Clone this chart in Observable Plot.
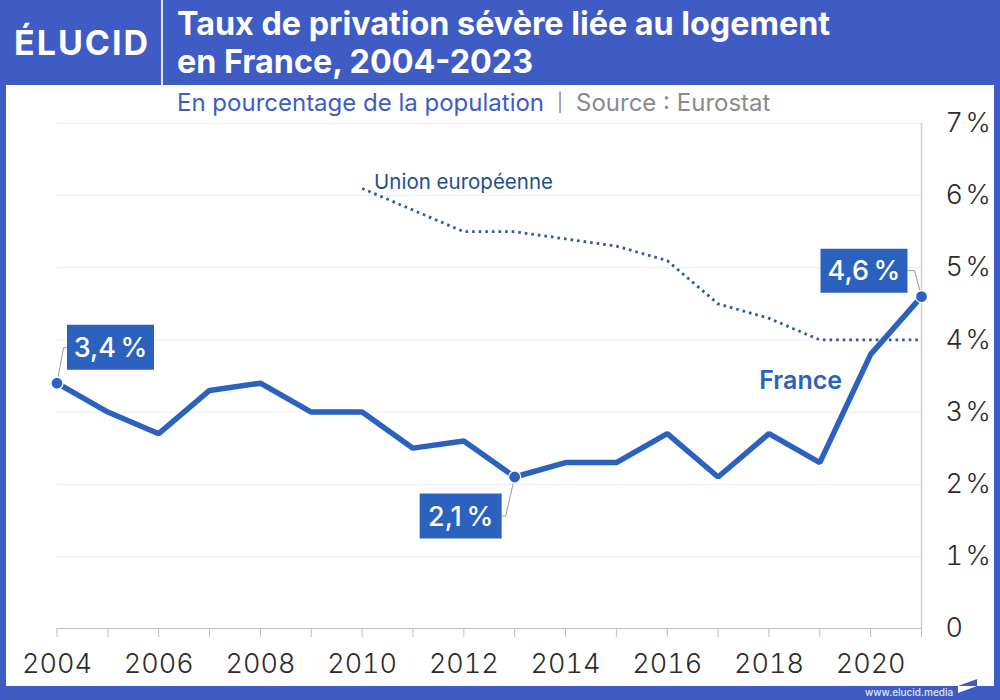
<!DOCTYPE html>
<html lang="fr"><head><meta charset="utf-8">
<script src="https://cdn.jsdelivr.net/npm/d3@7"></script>
<script src="https://cdn.jsdelivr.net/npm/@observablehq/plot@0.6"></script>
<style>
html,body{margin:0;padding:0;width:1000px;height:700px;overflow:hidden;background:#3f5bc4;font-family:Inter,sans-serif}
#panel{position:absolute;left:6px;top:85px;width:988px;height:601px;background:#fff}
#chart{position:absolute;left:0;top:0;width:1000px;height:700px}
#chart svg{background:transparent;display:block}
#divider{position:absolute;left:161px;top:0;width:2px;height:85px;background:#e4e8f6}
#logo{position:absolute;left:14px;top:22px;color:#fff;font:700 34px/42px Inter,sans-serif;letter-spacing:2px}
h1{position:absolute;left:177px;top:5px;margin:0;color:#fff;font:700 32.3px/38px Inter,sans-serif;white-space:nowrap}
#sub{position:absolute;left:177px;top:88px;font:400 24px/30px Inter,sans-serif;white-space:nowrap;color:#3f5bc4}
#sub .sep{color:#888;margin:0 13px;font-size:18px;vertical-align:2px}
#sub .src{color:#8a8a8a}
#foot{position:absolute;left:865px;top:684px;color:#dfe5fa;font:500 10px/16px Inter,sans-serif}
#mark{position:absolute;left:0;top:0}
</style></head><body>
<div id="panel"></div>
<div id="divider"></div>
<div id="logo">ÉLUCID</div>
<h1>Taux de privation sévère liée au logement<br>en France, 2004-2023</h1>
<div id="sub">En pourcentage de la population<span class="sep">|</span><span class="src">Source : Eurostat</span></div>
<div id="chart"></div>
<div id="foot">www.elucid.media</div>
<svg id="mark" width="1000" height="700"><polygon points="958,686 977,679 977,686" fill="#3f5bc4"/><polygon points="958,686 977,686 958,693" fill="#fff"/></svg>
<script>
const years = [2004,2005,2006,2007,2008,2009,2010,2011,2012,2013,2014,2015,2016,2017,2018,2019,2020,2021];
const franceValues = [3.4,3.0,2.7,3.3,3.4,3.0,3.0,2.5,2.6,2.1,2.3,2.3,2.7,2.1,2.7,2.3,3.8,4.6];
const euYears = [2010,2011,2012,2013,2014,2015,2016,2017,2018,2019,2020,2021];
const euValues = [6.1,5.8,5.5,5.5,5.4,5.3,5.1,4.5,4.3,4.0,4.0,4.0];
const yTicks = [0,1,2,3,4,5,6,7];
const xLabels = [2004,2006,2008,2010,2012,2014,2016,2018,2020];
const highlightYears = [2004,2013,2021];

const france = years.map((year,i)=>({year,value:franceValues[i]}));
const eu = euYears.map((year,i)=>({year,value:euValues[i]}));
const at = y => france.find(d=>d.year===y);
const blue = "#2a62bd";
const FONT = "Inter, sans-serif";

const callouts = [
  {year:2004, dx:53.5, dy:-36, w:87, h:45, leader:[[0,0],[6.5,-35.5],[10,-35.5]]},
  {year:2013, dx:-54, dy:39, w:82, h:45, leader:[[0,0],[-9,39],[-13,39]]},
  {year:2021, dx:-57.5, dy:-26, w:87, h:44, leader:[[0,0],[-7,-26],[-14,-26]]}
];
const boxSymbol = (w,h)=>({draw(c){c.rect(-w/2,-h/2,w,h);}});
const pathSymbol = pts=>({draw(c){pts.forEach((p,i)=>i?c.lineTo(p[0],p[1]):c.moveTo(p[0],p[1]));}});

const plot = Plot.plot({
  width:1000, height:700,
  marginLeft:56.5, marginRight:79, marginTop:123, marginBottom:72,
  style:{background:"transparent", fontFamily:FONT},
  x:{domain:[2004,2021]},
  y:{domain:[0,7]},
  marks:[
    Plot.ruleY(yTicks.filter(d=>d>0),{stroke:"#ececec",strokeWidth:1}),
    Plot.ruleY([0],{stroke:"#bdbdbd",strokeWidth:1.2}),
    Plot.ruleX([2021],{y1:0,y2:7,stroke:"#cfcfcf",strokeWidth:1.5}),
    Plot.axisX({ticks:years,tickSize:9,stroke:"#bdbdbd",tickFormat:()=>"",label:null}),
    Plot.axisX({ticks:xLabels,tickSize:0,tickPadding:25,fontSize:27,fontWeight:300,fill:"#2b2b2b",tickFormat:"d",label:null}),
    Plot.axisY({anchor:"right",ticks:yTicks,tickSize:0,tickPadding:24,fontSize:27,fontWeight:300,fill:"#2b2b2b",label:null,
      tickFormat:d=>d===0?"0":d+"\u200a%"}),
    Plot.line(eu,{x:"year",y:"value",stroke:"#2d5a9e",strokeWidth:2.8,strokeDasharray:"2.6 4",strokeLinecap:"butt"}),
    Plot.text([eu[0]],{x:"year",y:"value",text:()=>"Union européenne",textAnchor:"start",dx:12,dy:-6,fontSize:20.5,fontWeight:400,fill:"#1f4f8f"}),
    Plot.line(france,{x:"year",y:"value",stroke:blue,strokeWidth:5.5,strokeLinejoin:"miter"}),
    Plot.text([at(2020)],{x:"year",y:"value",text:()=>"France",dx:-70,dy:27,fontSize:25,fontWeight:600,fill:blue}),
    ...callouts.flatMap(c=>[
      Plot.dot([at(c.year)],{x:"year",y:"value",symbol:pathSymbol(c.leader),fill:"none",stroke:"#9a9a9a",strokeWidth:1}),
      Plot.dot([at(c.year)],{x:"year",y:"value",symbol:boxSymbol(c.w,c.h),dx:c.dx,dy:c.dy,fill:blue,stroke:"none"}),
      Plot.text([at(c.year)],{x:"year",y:"value",dx:c.dx,dy:c.dy+1,text:d=>String(d.value).replace(".",",")+"\u202f%",fill:"#fff",fontSize:27,fontWeight:500})
    ]),
    Plot.dot(france.filter(d=>highlightYears.includes(d.year)),{x:"year",y:"value",r:6,fill:blue,stroke:"#fff",strokeWidth:1.2})
  ]
});
document.getElementById("chart").appendChild(plot);
</script>
</body></html>
